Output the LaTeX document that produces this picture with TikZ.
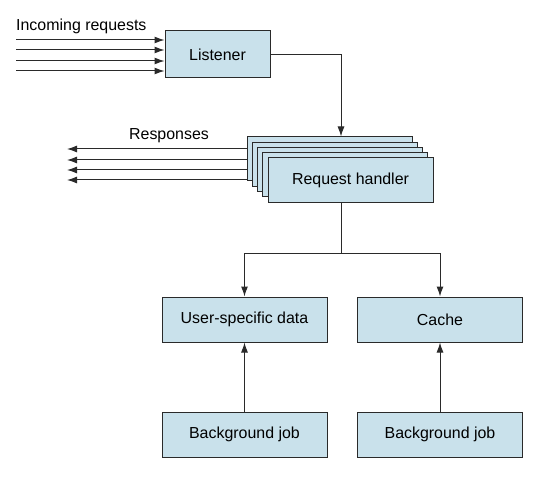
\documentclass[tikz,border=0pt]{standalone}
\usepackage{fontspec}
\setmainfont{Liberation Sans}
\usetikzlibrary{arrows.meta,calc}
\definecolor{boxfill}{HTML}{C9E1EB}
\definecolor{edge}{HTML}{2A2A2A}
\tikzset{
  box/.style={draw=edge, line width=1bp, fill=boxfill, minimum width=#1, inner sep=0pt, font=\fontsize{16}{19}\selectfont},
  box/.default=165bp,
  conn/.style={draw=edge, line width=1bp, -{Latex[length=10bp,width=7bp]}},
  plain/.style={draw=edge, line width=1bp},
  lbl/.style={font=\fontsize{16}{19}\selectfont, inner sep=0pt}
}
\begin{document}
\begin{tikzpicture}[x=1bp,y=-1bp]
\useasboundingbox (0,0) rectangle (550,479);
% Listener
\node[box=105bp, minimum height=47bp] (listener) at (217.5,54.5) {Listener};
\node[lbl, anchor=west] (inc) at (16,26) {Incoming requests};
\foreach \y [count=\i] in {40,50,61,71}{
  \coordinate (in\i) at (16,\y);
  \draw[conn] (in\i) -- (in\i -| listener.west);
}
% Request handler stack
\foreach \k in {0,1,2,3}{
  \node[box, minimum height=44bp] (h\k) at ({329.5+5.25*\k},{159+5.25*\k}) {};
}
\node[box, minimum height=44bp] (h4) at (350.5,180) {Request handler};
\coordinate (tap) at (341,0);
\draw[conn] (listener.east) -| (tap |- h0.north);
\node[lbl] (resp) at (169,136) {Responses};
\foreach \y [count=\i] in {149,160,170,180}{
  \coordinate (out\i) at (67,\y);
  \draw[conn] (out\i -| h0.west) -- (out\i);
}
% lower boxes
\node[box, minimum height=45bp] (user) at (244.5,319.5) {User-specific data};
\node[box, minimum height=45bp] (cache) at (440,319.5) {Cache};
\node[box, minimum height=45bp] (bg1) at (244.5,434.5) {Background job};
\node[box, minimum height=45bp] (bg2) at (440,434.5) {Background job};
\coordinate (j) at (341,253);
\draw[plain] (tap |- h4.south) -- (j);
\draw[conn] (j) -| (user.north);
\draw[conn] (j) -| (cache.north);
\draw[conn] (bg1.north) -- (user.south);
\draw[conn] (bg2.north) -- (cache.south);
\end{tikzpicture}
\end{document}
